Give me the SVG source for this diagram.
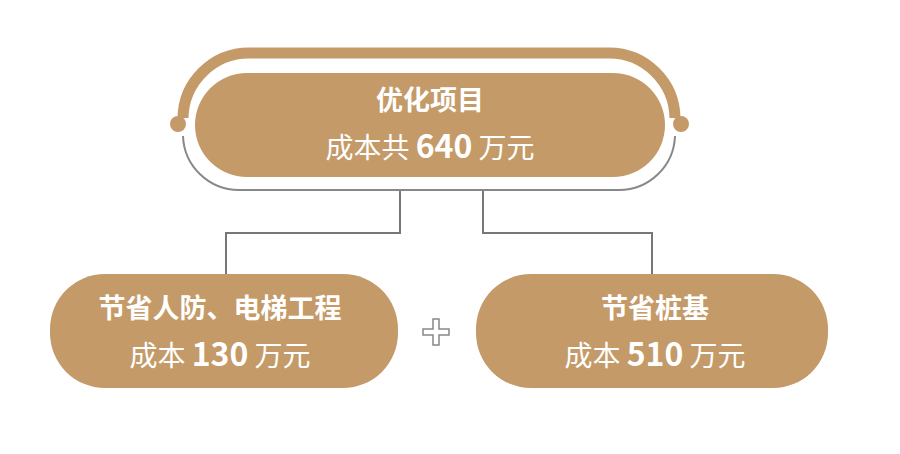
<svg xmlns="http://www.w3.org/2000/svg" width="900" height="454" viewBox="0 0 900 454">
<style>
.pill{fill:#c49a68}
.t{fill:#fff;font-family:"Noto Sans CJK SC","Liberation Sans",sans-serif;text-anchor:middle}
.b{font-weight:bold}
.c{fill:none;stroke:#777;stroke-width:2}
</style>
<rect width="900" height="454" fill="#fff"/>
<g id="top">
<path d="M183,118 A66,66 0 0 1 249,53 H609 A66,66 0 0 1 675,118" fill="none" stroke="#c49a68" stroke-width="11"/>
<path d="M183,136 A56,56 0 0 0 239,190 H619 A56,56 0 0 0 675,136" fill="none" stroke="#888" stroke-width="2"/>
<circle cx="178" cy="124" r="8" class="pill"/>
<circle cx="681" cy="124" r="8" class="pill"/>
<rect x="195" y="73" width="470" height="104" rx="52" class="pill"/>
<text x="430" y="110" class="t b" font-size="27">优化项目</text>
<text x="430" y="158" class="t" font-size="28">成本共 <tspan class="b" font-size="32">640</tspan> 万元</text>
</g>
<g id="connectors">
<path class="c" d="M400,191 V233 H226 V276"/>
<path class="c" d="M483,191 V233 H652 V276"/>
</g>
<g id="left">
<rect x="50" y="274" width="348" height="114" rx="55" class="pill"/>
<text x="220" y="318" class="t b" font-size="27">节省人防、电梯工程</text>
<text x="220" y="366" class="t" font-size="28">成本 <tspan class="b" font-size="32">130</tspan> 万元</text>
</g>
<g id="plus">
<path d="M433,319 h6 v10 h10 v6 h-10 v10 h-6 v-10 h-10 v-6 h10 z" fill="none" stroke="#888" stroke-width="1.5"/>
</g>
<g id="right">
<rect x="476" y="274" width="352" height="114" rx="55" class="pill"/>
<text x="655" y="318" class="t b" font-size="27">节省桩基</text>
<text x="655" y="366" class="t" font-size="28">成本 <tspan class="b" font-size="32">510</tspan> 万元</text>
</g>
</svg>
